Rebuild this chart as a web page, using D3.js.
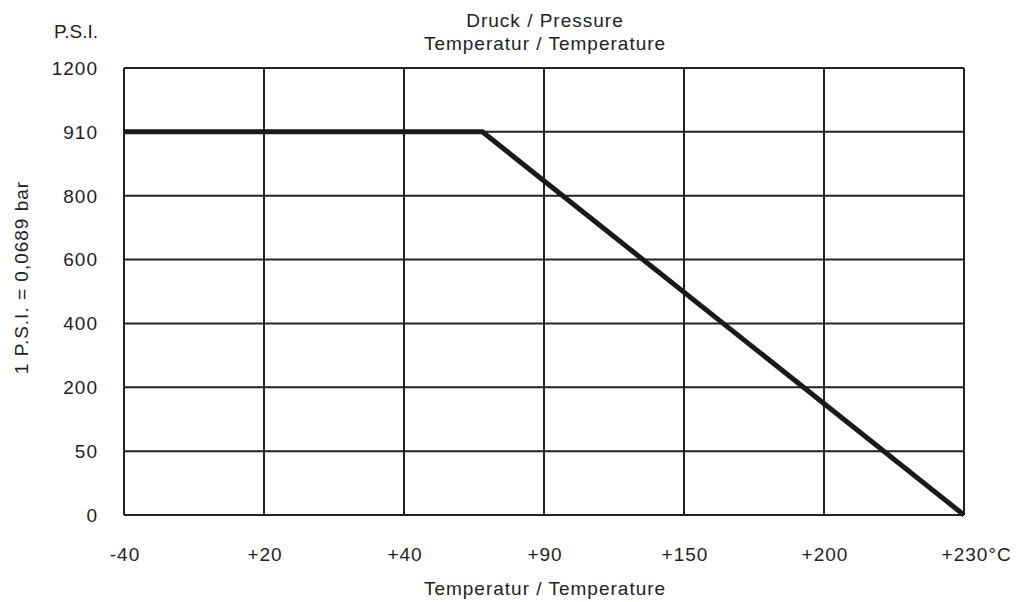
<!DOCTYPE html>
<html>
<head>
<meta charset="utf-8">
<script src="https://cdn.jsdelivr.net/npm/d3@7"></script>
<style>
  body { margin: 0; background: #fff; }
  text { font-family: "Liberation Sans", Arial, sans-serif; fill: #222; font-size: 19px; letter-spacing: 1px; }
</style>
</head>
<body>
<div class="content"></div>
<script>
// Tick values (evenly spaced on the chart, not proportional)
var tempTicks = [-40, 20, 40, 90, 150, 200, 230];
var tempLabels = ["-40", "+20", "+40", "+90", "+150", "+200", "+230"];
var psiTicks = [0, 50, 200, 400, 600, 800, 910, 1200];

// Derating curve: temperature (°C) vs pressure (P.S.I.)
var curveTemp = [-40, 68, 230];
var curvePsi = [910, 910, 0];

var margin = {top: 68, right: 55, bottom: 87, left: 124},
    width = 1019 - margin.left - margin.right,
    height = 602 - margin.top - margin.bottom;

var svg = d3.select(".content").append("svg")
    .attr("width", 1019)
    .attr("height", 602)
  .append("g")
    .attr("transform", "translate(" + margin.left + "," + margin.top + ")");

// piecewise linear scales, each tick one equal step
var x = d3.scaleLinear()
  .domain(tempTicks)
  .range(tempTicks.map(function(d, i) { return i * width / (tempTicks.length - 1); }));

var y = d3.scaleLinear()
  .domain(psiTicks)
  .range(psiTicks.map(function(d, i) { return height - i * height / (psiTicks.length - 1); }));

// grid
svg.selectAll(".vgrid")
  .data(tempTicks)
  .enter()
  .append("line")
    .attr("x1", function(d) { return x(d); })
    .attr("x2", function(d) { return x(d); })
    .attr("y1", 0)
    .attr("y2", height)
    .style("stroke", "#222")
    .style("stroke-width", 2);

svg.selectAll(".hgrid")
  .data(psiTicks)
  .enter()
  .append("line")
    .attr("x1", 0)
    .attr("x2", width)
    .attr("y1", function(d) { return y(d); })
    .attr("y2", function(d) { return y(d); })
    .style("stroke", "#222")
    .style("stroke-width", 2);

// y tick labels
svg.selectAll(".ylab")
  .data(psiTicks)
  .enter()
  .append("text")
    .attr("x", -26)
    .attr("y", function(d) { return y(d); })
    .attr("dy", "0.36em")
    .attr("text-anchor", "end")
    .text(function(d) { return d; });

// x tick labels
var xlabs = svg.selectAll(".xlab")
  .data(tempTicks)
  .enter()
  .append("text")
    .attr("x", function(d) { return x(d) + 1; })
    .attr("y", height + 46)
    .attr("text-anchor", "middle")
    .text(function(d, i) { return tempLabels[i]; });

// °C after the last label
var lastW = xlabs.filter(function(d, i) { return i === tempTicks.length - 1; })
  .node().getComputedTextLength();
svg.append("text")
  .attr("x", x(230) + lastW / 2 + 1)
  .attr("y", height + 46)
  .text("°C");

// the curve
var line = d3.line()
  .x(function(d) { return x(d[0]); })
  .y(function(d) { return y(d[1]); });

svg.append("path")
  .datum(d3.zip(curveTemp, curvePsi))
  .attr("d", line)
  .style("fill", "none")
  .style("stroke", "#1a1a1a")
  .style("stroke-width", 5)
  .style("stroke-linejoin", "miter");

// titles
svg.append("text")
  .attr("x", x(90) + 1)
  .attr("y", -41)
  .attr("text-anchor", "middle")
  .text("Druck / Pressure");
svg.append("text")
  .attr("x", x(90) + 1)
  .attr("y", -18)
  .attr("text-anchor", "middle")
  .text("Temperatur / Temperature");

svg.append("text")
  .attr("x", -26)
  .attr("y", -30)
  .attr("text-anchor", "end")
  .style("letter-spacing", "0px")
  .text("P.S.I.");

svg.append("text")
  .attr("x", x(90) + 1)
  .attr("y", height + 80)
  .attr("text-anchor", "middle")
  .text("Temperatur / Temperature");

svg.append("text")
  .attr("transform", "translate(" + (-96) + "," + (height / 2 - 14) + ") rotate(-90)")
  .attr("text-anchor", "middle")
  .text("1 P.S.I. = 0,0689 bar");
</script>
</body>
</html>
